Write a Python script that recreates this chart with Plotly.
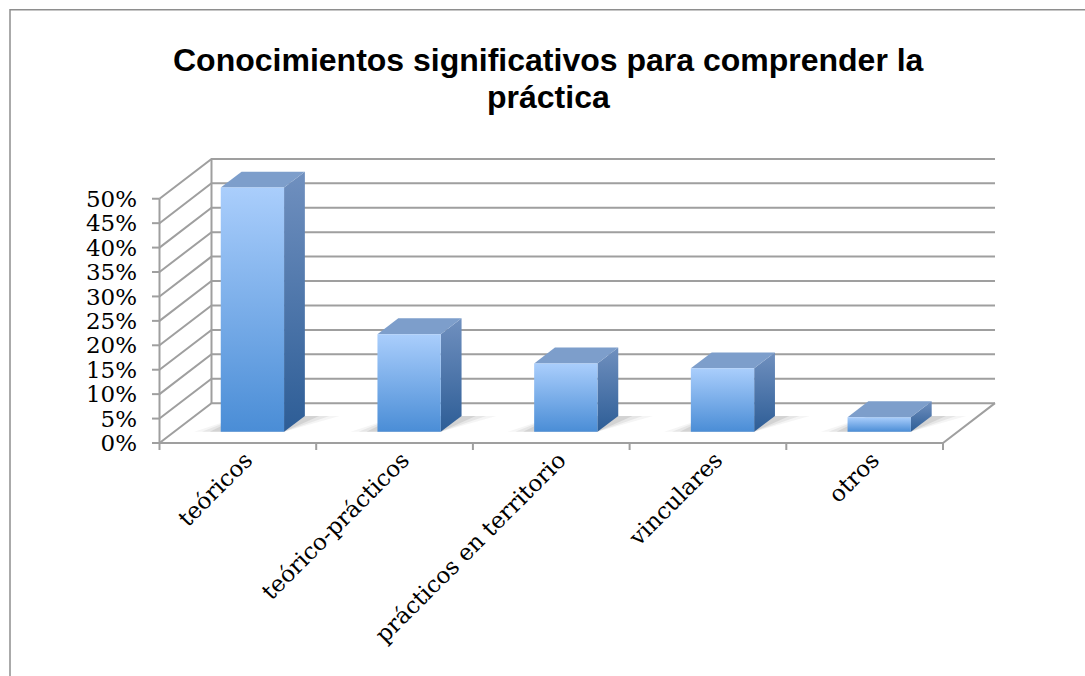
import plotly.graph_objects as go

# ---------------- data ----------------
categories = ["teóricos", "teórico-prácticos", "prácticos en territorio", "vinculares", "otros"]
values = [0.50, 0.20, 0.14, 0.13, 0.03]
y_ticks = [0.0, 0.05, 0.10, 0.15, 0.20, 0.25, 0.30, 0.35, 0.40, 0.45, 0.50]
title_lines = ["Conocimientos significativos para comprender la", "práctica"]

# ---------------- style / geometry ----------------
W, H = 1085, 676
PX_X = 156.7          # px per category unit
PX_Y = 488.0          # px per 100%
X0_PX, Y0_PX = 159.5, 442.7   # pixel of (0, 0)
PLOT_L, PLOT_R = 152.0, 998.0
PLOT_T, PLOT_B = 155.0, 449.7
DX = 52.0 / PX_X      # depth offset of back wall (x units)
DY = 39.8 / PX_Y      # depth offset of back wall (y units)
D0, D1 = 0.28, 0.68   # bar depth (fraction of wall depth)
BAR_W = 0.404
LABEL_SHIFT = 0.05    # category label anchor shift (x units)
GRID = "#9f9f9f"
SERIF = "DejaVu Serif"

x_range = [(PLOT_L - X0_PX) / PX_X, (PLOT_R - X0_PX) / PX_X]
y_range = [(Y0_PX - PLOT_B) / PX_Y, (Y0_PX - PLOT_T) / PX_Y]
n = len(categories)
ymax = y_ticks[-1]

fig = go.Figure()

# ---------- walls / grid ----------
gx, gy = [], []
for t in y_ticks:
    gx += [0, DX, n + DX, None]
    gy += [t, t + DY, t + DY, None]
gx += [0, 0, None, DX, DX, None]
gy += [0, ymax, None, DY, ymax + DY, None]
gx += [0, n, n + DX, None]
gy += [0, 0, DY, None]
for t in y_ticks:
    gx += [x_range[0], 0, None]
    gy += [t, t, None]
for k in range(n + 1):
    gx += [k, k, None]
    gy += [0, y_range[0], None]
fig.add_trace(go.Scatter(x=gx, y=gy, mode="lines", line=dict(color=GRID, width=2),
                         hoverinfo="skip", showlegend=False))

# ---------- bars ----------
for i, v in enumerate(values):
    c = i + 0.5
    xl0 = c - BAR_W / 2 + D0 * DX
    xr0 = c + BAR_W / 2 + D0 * DX
    xl1 = c - BAR_W / 2 + D1 * DX
    xr1 = c + BAR_W / 2 + D1 * DX
    y0 = D0 * DY
    y1 = D1 * DY

    # soft floor shadow (layered)
    for grow, alpha in [(0.17, 0.05), (0.12, 0.08), (0.07, 0.11)]:
        sx = [xl0 - grow, xr0, xr1 + grow * 1.3, xl1, xl0 - grow]
        sy = [y0, y0, y1, y1, y0]
        fig.add_trace(go.Scatter(x=sx, y=sy, mode="lines", fill="toself",
                                 fillcolor=f"rgba(60,60,60,{alpha})", line=dict(width=0),
                                 hoverinfo="skip", showlegend=False))

    # side face
    fig.add_trace(go.Scatter(
        x=[xr0, xr0, xr1, xr1, xr0], y=[y0, y0 + v, y1 + v, y1, y0],
        mode="lines", fill="toself", line=dict(width=0),
        fillgradient=dict(type="vertical", colorscale=[[0, "#2d5d96"], [1, "#7090bf"]]),
        hoverinfo="skip", showlegend=False))
    # top face
    fig.add_trace(go.Scatter(
        x=[xl0, xr0, xr1, xl1, xl0], y=[y0 + v, y0 + v, y1 + v, y1 + v, y0 + v],
        mode="lines", fill="toself", line=dict(width=0), fillcolor="#7d9ecb",
        hoverinfo="skip", showlegend=False))
    # front face
    fig.add_trace(go.Scatter(
        x=[xl0, xr0, xr0, xl0, xl0], y=[y0, y0, y0 + v, y0 + v, y0],
        mode="lines", fill="toself", line=dict(width=0),
        fillgradient=dict(type="vertical", colorscale=[[0, "#4a8dd6"], [1, "#aacefc"]]),
        hovertext=f"{categories[i]}: {v:.0%}", hoverinfo="text", showlegend=False))

# ---------- title ----------
for j, line in enumerate(title_lines):
    py = [60.0, 97.0][j]
    fig.add_annotation(text=f"<b>{line}</b>", xref="paper", yref="paper",
                       x=((548.5 - PLOT_L) / (PLOT_R - PLOT_L)),
                       y=(PLOT_B - py) / (PLOT_B - PLOT_T),
                       xanchor="center", yanchor="middle", showarrow=False,
                       font=dict(family="Liberation Sans", size=32, color="black"))

# ---------- chart border ----------
fig.add_shape(type="rect", xref="paper", yref="paper", layer="below",
              x0=(10 - PLOT_L) / (PLOT_R - PLOT_L), x1=(1100 - PLOT_L) / (PLOT_R - PLOT_L),
              y0=(PLOT_B - 700) / (PLOT_B - PLOT_T), y1=(PLOT_B - 10) / (PLOT_B - PLOT_T),
              line=dict(color="#8e8e8e", width=1.5))

fig.update_layout(
    width=W, height=H,
    margin=dict(l=PLOT_L, r=W - PLOT_R, t=PLOT_T, b=H - PLOT_B, pad=0),
    paper_bgcolor="white", plot_bgcolor="white",
    showlegend=False,
    xaxis=dict(range=x_range, showgrid=False, zeroline=False, showline=False,
               tickmode="array", tickvals=[i + 0.5 + LABEL_SHIFT for i in range(n)],
               ticktext=categories,
               tickangle=-45, ticks="", ticklabelstandoff=-9,
               tickfont=dict(family=SERIF, size=23, color="black")),
    yaxis=dict(range=y_range, showgrid=False, zeroline=False, showline=False,
               tickmode="array", tickvals=y_ticks, tickformat=".0%", ticks="",
               ticklabelstandoff=14,
               tickfont=dict(family=SERIF, size=23, color="black")),
)

fig.write_html("out.html")
